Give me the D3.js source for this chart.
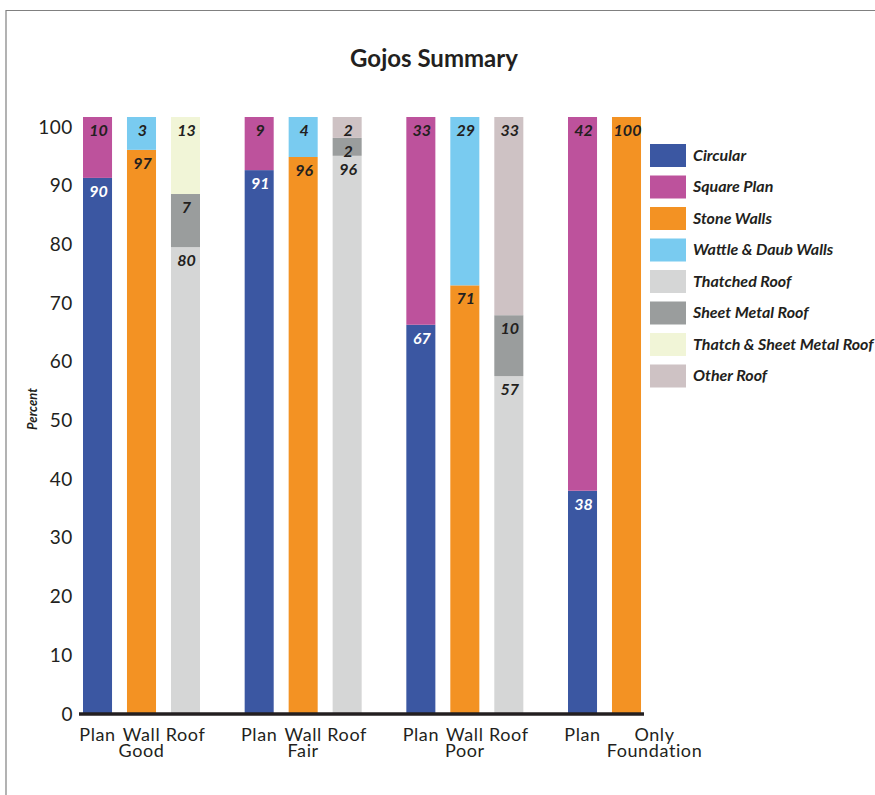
<!DOCTYPE html>
<html>
<head>
<meta charset="utf-8">
<script src="https://cdn.jsdelivr.net/npm/d3@7"></script>
<style>
  body { margin: 0; background: #fff; }
  svg { display: block; font-family: Lato, "Open Sans", sans-serif; }
</style>
</head>
<body>
<div id="chart"></div>
<script>
// condition groups and the bars inside each one
var groups = ["Good", "Fair", "Poor", "Foundation"];
var barNames = [["Plan", "Wall", "Roof"], ["Plan", "Wall", "Roof"], ["Plan", "Wall", "Roof"], ["Plan", "Only"]];

var seriesNames = ["Circular", "Square Plan", "Stone Walls", "Wattle & Daub Walls",
    "Thatched Roof", "Sheet Metal Roof", "Thatch & Sheet Metal Roof", "Other Roof"];
var seriesColors = ["#3b57a2", "#bd529c", "#f39223", "#79cbf0",
    "#d5d6d6", "#9a9d9d", "#f1f5d7", "#cec2c4"];

// segment heights as drawn (percent of each bar), bar order:
// Good Plan, Wall, Roof, Fair Plan, Wall, Roof, Poor Plan, Wall, Roof, Foundation Plan, Only
var circular    = [89.8, 0, 0, 91.1, 0, 0, 65.2, 0, 0, 37.4, 0];
var squarePlan  = [10.2, 0, 0, 8.9, 0, 0, 34.8, 0, 0, 62.6, 0];
var stoneWalls  = [0, 94.5, 0, 0, 93.3, 0, 0, 71.8, 0, 0, 100];
var wattleDaub  = [0, 5.5, 0, 0, 6.7, 0, 0, 28.2, 0, 0, 0];
var thatched    = [0, 0, 78.2, 0, 0, 93.5, 0, 0, 56.6, 0, 0];
var sheetMetal  = [0, 0, 8.9, 0, 0, 3.0, 0, 0, 10.2, 0, 0];
var thatchSheet = [0, 0, 12.9, 0, 0, 0, 0, 0, 0, 0, 0];
var otherRoof   = [0, 0, 0, 0, 0, 3.5, 0, 0, 33.2, 0, 0];

// numbers printed on the segments
var circularLbl    = ["90", "", "", "91", "", "", "67", "", "", "38", ""];
var squarePlanLbl  = ["10", "", "", "9", "", "", "33", "", "", "42", ""];
var stoneWallsLbl  = ["", "97", "", "", "96", "", "", "71", "", "", "100"];
var wattleDaubLbl  = ["", "3", "", "", "4", "", "", "29", "", "", ""];
var thatchedLbl    = ["", "", "80", "", "", "96", "", "", "57", "", ""];
var sheetMetalLbl  = ["", "", "7", "", "", "2", "", "", "10", "", ""];
var thatchSheetLbl = ["", "", "13", "", "", "", "", "", "", "", ""];
var otherRoofLbl   = ["", "", "", "", "", "2", "", "", "33", "", ""];

var yTicks = [0, 10, 20, 30, 40, 50, 60, 70, 80, 90, 100];

var seriesValues = [circular, squarePlan, stoneWalls, wattleDaub, thatched, sheetMetal, thatchSheet, otherRoof];
var seriesLabels = [circularLbl, squarePlanLbl, stoneWallsLbl, wattleDaubLbl, thatchedLbl, sheetMetalLbl, thatchSheetLbl, otherRoofLbl];

var textColor = "#231f20";

var svg = d3.select("#chart").append("svg")
    .attr("width", 875)
    .attr("height", 795);

// frame
svg.append("path")
    .attr("d", "M6,795V10.5H875")
    .attr("fill", "none")
    .attr("stroke", "#808080")
    .attr("stroke-width", 1.2);

svg.append("text")
    .attr("x", 434)
    .attr("y", 67)
    .attr("text-anchor", "middle")
    .attr("font-size", 24)
    .attr("font-weight", 700)
    .attr("fill", textColor)
    .text("Gojos Summary");

var y = d3.scaleLinear().domain([0, 100]).range([714, 117]);
var yAxisScale = d3.scaleLinear().domain([0, 100]).range([714, 127]);

var xGroup = d3.scaleLinear().domain([0, groups.length - 1]).range([83, 568]);
var xInner = d3.scaleBand().domain([0, 1, 2]).range([0, 117]).paddingInner(0.34);

// flatten bars and build stacked segments
var bars = [];
groups.forEach(function(g, gi) {
    barNames[gi].forEach(function(b, bi) {
        bars.push({group: gi, index: bi, name: b, x: xGroup(gi) + xInner(bi)});
    });
});

var segments = [];
bars.forEach(function(bar, k) {
    var acc = 0;
    seriesValues.forEach(function(vals, s) {
        if (vals[k] > 0) {
            segments.push({bar: bar, series: s, y0: acc, y1: acc + vals[k], label: seriesLabels[s][k]});
            acc += vals[k];
        }
    });
});

svg.append("g").selectAll("rect")
    .data(segments)
    .enter().append("rect")
    .attr("x", d => d.bar.x)
    .attr("y", d => y(d.y1))
    .attr("width", xInner.bandwidth())
    .attr("height", d => y(d.y0) - y(d.y1))
    .attr("fill", d => seriesColors[d.series]);

svg.append("g").selectAll("text")
    .data(segments.filter(d => d.label !== ""))
    .enter().append("text")
    .attr("x", d => d.bar.x + xInner.bandwidth() / 2 + 1)
    .attr("y", d => y(d.y1) + 19)
    .attr("text-anchor", "middle")
    .attr("font-size", 16)
    .attr("font-weight", 700)
    .attr("font-style", "italic")
    .attr("fill", d => d.series === 0 ? "#fff" : textColor)
    .text(d => d.label);

// y axis
var yAxis = d3.axisLeft(yAxisScale).tickValues(yTicks).tickSize(0).tickPadding(0);
var gy = svg.append("g")
    .attr("transform", "translate(73,0)")
    .call(yAxis);
gy.select(".domain").remove();
gy.selectAll("text")
    .attr("font-family", "Lato, sans-serif")
    .attr("font-size", 19)
    .attr("letter-spacing", 0.6)
    .attr("fill", textColor);

// baseline
svg.append("line")
    .attr("x1", 79)
    .attr("x2", 644)
    .attr("y1", y(0))
    .attr("y2", y(0))
    .attr("stroke", textColor)
    .attr("stroke-width", 3.5);

svg.append("text")
    .attr("transform", "translate(37,409) rotate(-90)")
    .attr("text-anchor", "middle")
    .attr("font-size", 13)
    .attr("font-weight", 700)
    .attr("font-style", "italic")
    .attr("fill", textColor)
    .text("Percent");

// x labels: bar names and group names
function labelX(bar) {
    // the short last group has its second label pushed right
    var shift = barNames[bar.group].length < 3 && bar.index > 0 ? 28 : 0;
    return bar.x + xInner.bandwidth() / 2 + shift;
}

svg.append("g").selectAll("text")
    .data(bars)
    .enter().append("text")
    .attr("x", d => labelX(d))
    .attr("y", 741)
    .attr("text-anchor", "middle")
    .attr("font-size", 18)
    .attr("letter-spacing", 0.6)
    .attr("fill", textColor)
    .text(d => d.name);

svg.append("g").selectAll("text")
    .data(groups)
    .enter().append("text")
    .attr("x", (d, i) => labelX(bars.find(b => b.group === i && b.index === 1)))
    .attr("y", 757)
    .attr("text-anchor", "middle")
    .attr("font-size", 18)
    .attr("letter-spacing", 0.6)
    .attr("fill", textColor)
    .text(d => d);

// legend
var legend = svg.append("g").selectAll("g")
    .data(seriesNames)
    .enter().append("g")
    .attr("transform", (d, i) => "translate(650," + (144 + i * 31.5) + ")");

legend.append("rect")
    .attr("width", 36)
    .attr("height", 23)
    .attr("fill", (d, i) => seriesColors[i]);

legend.append("text")
    .attr("x", 43)
    .attr("y", 16.5)
    .attr("font-size", 16)
    .attr("font-weight", 700)
    .attr("font-style", "italic")
    .attr("fill", textColor)
    .text(d => d);
</script>
</body>
</html>
